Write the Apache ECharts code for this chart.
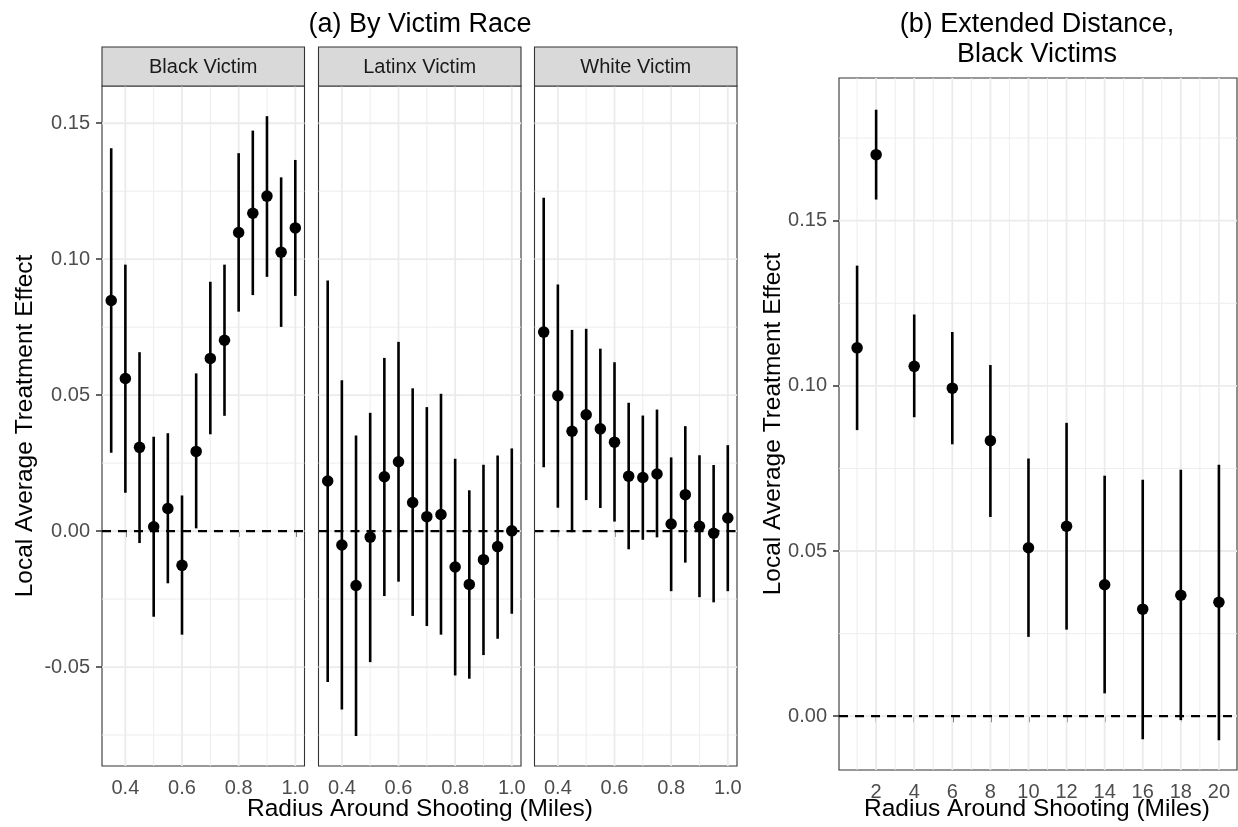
<!DOCTYPE html>
<html>
<head>
<meta charset="utf-8">
<script src="https://cdn.jsdelivr.net/npm/echarts@6/dist/echarts.min.js"></script>
<style>
html,body{margin:0;padding:0;background:#fff;}
#chart{width:1238px;height:827px;}
</style>
</head>
<body>
<div id="chart"></div>
<script>
// ---------------- data ----------------
const radiusA = [0.35, 0.40, 0.45, 0.50, 0.55, 0.60, 0.65, 0.70, 0.75, 0.80, 0.85, 0.90, 0.95, 1.00];

const blackEst = [0.0848, 0.0561, 0.0308, 0.0016, 0.0083, -0.0126, 0.0293, 0.0635, 0.0702, 0.1098, 0.1169, 0.1232, 0.1026, 0.1115];
const blackLo  = [0.0288, 0.0141, -0.0044, -0.0315, -0.0192, -0.0381, 0.0010, 0.0356, 0.0424, 0.0807, 0.0868, 0.0935, 0.0751, 0.0865];
const blackHi  = [0.1408, 0.0980, 0.0658, 0.0347, 0.0360, 0.0131, 0.0580, 0.0917, 0.0980, 0.1390, 0.1473, 0.1526, 0.1301, 0.1365];

const latinxEst = [0.0184, -0.0051, -0.0200, -0.0022, 0.0200, 0.0255, 0.0105, 0.0053, 0.0061, -0.0132, -0.0196, -0.0105, -0.0057, 0.0001];
const latinxLo  = [-0.0555, -0.0656, -0.0754, -0.0482, -0.0239, -0.0186, -0.0312, -0.0349, -0.0381, -0.0531, -0.0543, -0.0456, -0.0396, -0.0304];
const latinxHi  = [0.0922, 0.0555, 0.0352, 0.0435, 0.0637, 0.0696, 0.0525, 0.0456, 0.0505, 0.0266, 0.0150, 0.0244, 0.0278, 0.0304];

const whiteEst = [0.0732, 0.0498, 0.0367, 0.0428, 0.0376, 0.0327, 0.0202, 0.0197, 0.0210, 0.0026, 0.0134, 0.0018, -0.0008, 0.0048];
const whiteLo  = [0.0235, 0.0086, -0.0004, 0.0114, 0.0085, 0.0035, -0.0067, -0.0032, -0.0023, -0.0221, -0.0116, -0.0243, -0.0262, -0.0221];
const whiteHi  = [0.1226, 0.0907, 0.0740, 0.0744, 0.0671, 0.0621, 0.0472, 0.0425, 0.0447, 0.0271, 0.0386, 0.0279, 0.0243, 0.0316];

const radiusB = [1, 2, 4, 6, 8, 10, 12, 14, 16, 18, 20];
const extEst = [0.1115, 0.1700, 0.1059, 0.0993, 0.0834, 0.0510, 0.0575, 0.0398, 0.0324, 0.0366, 0.0345];
const extLo  = [0.0866, 0.1564, 0.0905, 0.0823, 0.0603, 0.0240, 0.0262, 0.0069, -0.0070, -0.0012, -0.0073];
const extHi  = [0.1364, 0.1836, 0.1216, 0.1163, 0.1063, 0.0780, 0.0888, 0.0728, 0.0716, 0.0746, 0.0761];

const facetNames = ['Black Victim', 'Latinx Victim', 'White Victim'];

// tick / grid values
const xTicksA = [0.4, 0.6, 0.8, 1.0];
const xMinorA = [0.5, 0.7, 0.9];
const yTicksA = [-0.05, 0.00, 0.05, 0.10, 0.15];
const yMinorA = [-0.075, -0.025, 0.025, 0.075, 0.125];
const xTicksB = [2, 4, 6, 8, 10, 12, 14, 16, 18, 20];
const xMinorB = [1, 3, 5, 7, 9, 11, 13, 15, 17, 19];
const yTicksB = [0.00, 0.05, 0.10, 0.15];
const yMinorB = [0.025, 0.075, 0.125, 0.175];

const xRangeA = [0.3175, 1.0325];
const yRangeA = [-0.0864, 0.1637];
const xRangeB = [0.05, 20.95];
const yRangeB = [-0.0163, 0.1932];

const titleA = '(a) By Victim Race';
const titleB = '(b) Extended Distance,\nBlack Victims';
const xTitle = 'Radius Around Shooting (Miles)';
const yTitle = 'Local Average Treatment Effect';

// ---------------- layout / style ----------------
const FONT = "'Liberation Sans', Arial, Helvetica, sans-serif";
const gridsPx = [
  {left: 102, top: 86, width: 202.5, height: 680},
  {left: 318.5, top: 86, width: 202.5, height: 680},
  {left: 534.5, top: 86, width: 202.5, height: 680},
  {left: 839, top: 78, width: 398, height: 692}
];
const GRID_COL = '#EBEBEB';

function vline(color, width) {
  return function (params, api) {
    const cs = params.coordSys;
    const x = api.coord([api.value(0), api.value(1)])[0];
    return {type: 'line', silent: true,
      shape: {x1: x, y1: cs.y, x2: x, y2: cs.y + cs.height},
      style: {stroke: color, lineWidth: width}};
  };
}
function hline(color, width, dash) {
  return function (params, api) {
    const cs = params.coordSys;
    const y = api.coord([api.value(0), api.value(1)])[1];
    return {type: 'line', silent: true,
      shape: {x1: cs.x, y1: y, x2: cs.x + cs.width, y2: y},
      style: {stroke: color, lineWidth: width, lineDash: dash || null}};
  };
}
function errBar(params, api) {
  const p1 = api.coord([api.value(0), api.value(1)]);
  const p2 = api.coord([api.value(0), api.value(2)]);
  return {type: 'line', silent: true,
    shape: {x1: p1[0], y1: p1[1], x2: p2[0], y2: p2[1]},
    style: {stroke: '#000', lineWidth: 2.6}};
}

const grids = [], xAxes = [], yAxes = [], series = [];

function addPanel(i, xs, est, lo, hi, xr, yr, xT, xM, yT, yM, showY) {
  grids.push(Object.assign({show: true, backgroundColor: '#fff', borderColor: '#333', borderWidth: 1.1}, gridsPx[i]));
  xAxes.push({
    type: 'value', gridIndex: i, min: xr[0], max: xr[1],
    axisLine: {show: false}, splitLine: {show: false},
    axisTick: {show: true, length: 6, customValues: xT, lineStyle: {color: '#333', width: 1.5}},
    axisLabel: {show: true, customValues: xT, margin: 12, color: '#4D4D4D', fontSize: 20, fontFamily: FONT,
      formatter: v => (xr[1] > 5 ? String(Math.round(v)) : v.toFixed(1))}
  });
  yAxes.push({
    type: 'value', gridIndex: i, min: yr[0], max: yr[1],
    axisLine: {show: false}, splitLine: {show: false},
    axisTick: {show: showY, length: 6, customValues: yT, lineStyle: {color: '#333', width: 1.5}},
    axisLabel: {show: showY, customValues: yT, margin: 12, color: '#4D4D4D', fontSize: 20, fontFamily: FONT,
      formatter: v => v.toFixed(2)}
  });
  const base = {xAxisIndex: i, yAxisIndex: i, animation: false, silent: true};
  series.push(Object.assign({type: 'custom', z: 1, renderItem: vline(GRID_COL, 0.9), data: xM.map(v => [v, yr[0]])}, base));
  series.push(Object.assign({type: 'custom', z: 1, renderItem: hline(GRID_COL, 0.9), data: yM.map(v => [xr[0], v])}, base));
  series.push(Object.assign({type: 'custom', z: 1, renderItem: vline(GRID_COL, 1.8), data: xT.map(v => [v, yr[0]])}, base));
  series.push(Object.assign({type: 'custom', z: 1, renderItem: hline(GRID_COL, 1.8), data: yT.map(v => [xr[0], v])}, base));
  series.push(Object.assign({type: 'custom', z: 2, renderItem: hline('#000', 2.1, [9, 7]), data: [[xr[0], 0]]}, base));
  series.push(Object.assign({type: 'custom', z: 3, renderItem: errBar, data: xs.map((x, k) => [x, lo[k], hi[k]])}, base));
  series.push(Object.assign({type: 'scatter', z: 4, symbol: 'circle', symbolSize: 11.5,
    itemStyle: {color: '#000', opacity: 1}, data: xs.map((x, k) => [x, est[k]])}, base));
}

addPanel(0, radiusA, blackEst, blackLo, blackHi, xRangeA, yRangeA, xTicksA, xMinorA, yTicksA, yMinorA, true);
addPanel(1, radiusA, latinxEst, latinxLo, latinxHi, xRangeA, yRangeA, xTicksA, xMinorA, yTicksA, yMinorA, false);
addPanel(2, radiusA, whiteEst, whiteLo, whiteHi, xRangeA, yRangeA, xTicksA, xMinorA, yTicksA, yMinorA, false);
addPanel(3, radiusB, extEst, extLo, extHi, xRangeB, yRangeB, xTicksB, xMinorB, yTicksB, yMinorB, true);

// graphics: strips, titles, axis titles
const graphics = [];
facetNames.forEach((name, i) => {
  const g = gridsPx[i];
  graphics.push({type: 'rect', silent: true, z: 10,
    shape: {x: g.left, y: 47, width: g.width, height: 39},
    style: {fill: '#D9D9D9', stroke: '#333', lineWidth: 1.1}});
  graphics.push({type: 'text', silent: true, z: 11, x: g.left + g.width / 2, y: 67,
    style: {text: name, font: '20px ' + FONT, fill: '#1A1A1A', align: 'center', verticalAlign: 'middle'}});
});
graphics.push({type: 'text', silent: true, x: 420, y: 25,
  style: {text: titleA, font: '27px ' + FONT, fill: '#000', align: 'center', verticalAlign: 'middle'}});
graphics.push({type: 'text', silent: true, x: 1037, y: 40,
  style: {text: titleB, font: '27px ' + FONT, lineHeight: 30, fill: '#000', align: 'center', verticalAlign: 'middle'}});
graphics.push({type: 'text', silent: true, x: 420, y: 809,
  style: {text: xTitle, font: '24.5px ' + FONT, fill: '#000', align: 'center', verticalAlign: 'middle'}});
graphics.push({type: 'text', silent: true, x: 1037, y: 809,
  style: {text: xTitle, font: '24.5px ' + FONT, fill: '#000', align: 'center', verticalAlign: 'middle'}});
graphics.push({type: 'text', silent: true, x: 25, y: 426, rotation: Math.PI / 2,
  style: {text: yTitle, font: '24.5px ' + FONT, fill: '#000', align: 'center', verticalAlign: 'middle'}});
graphics.push({type: 'text', silent: true, x: 773, y: 424, rotation: Math.PI / 2,
  style: {text: yTitle, font: '24.5px ' + FONT, fill: '#000', align: 'center', verticalAlign: 'middle'}});

const chart = echarts.init(document.getElementById('chart'), null, {renderer: 'canvas'});
chart.setOption({
  animation: false,
  backgroundColor: '#fff',
  grid: grids,
  xAxis: xAxes,
  yAxis: yAxes,
  series: series,
  graphic: graphics
});
</script>
</body>
</html>
